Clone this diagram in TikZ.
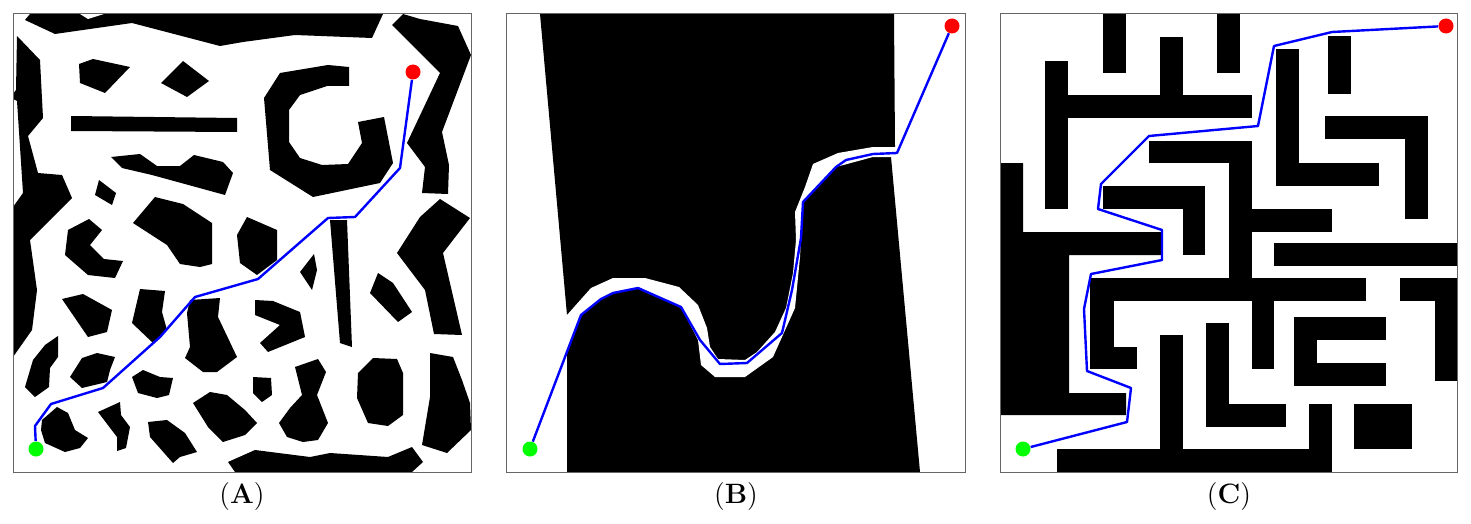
\documentclass[tikz,border=0pt]{standalone}
\usetikzlibrary{positioning}

\begin{document}
\begin{tikzpicture}[x=0.5pt,y=-0.5pt,
    obst/.style={fill=black},
    gap/.style={fill=white},
    frame/.style={draw=black!60, line width=0.5pt},
    route/.style={draw=blue, line width=1.2pt, line join=round},
    startpt/.style={circle, fill=green, inner sep=0pt, minimum size=7.5pt},
    goalpt/.style={circle, fill=red, inner sep=0pt, minimum size=7.5pt},
    caption/.style={font=\fontsize{14}{16}\selectfont, inner sep=2pt}]

  \useasboundingbox (0,0) rectangle (1471,524);

  % (A) random obstacles
  \fill[obst] (30,14) -- (383,14) -- (372,38) -- (295,35) -- (243,42) -- (220,46) -- (132,23) -- (55,34) -- (25,20) -- cycle;
  \fill[gap] (80,14) -- (104,14) -- (88,19) -- cycle;
  \fill[obst] (17,36) -- (40,60) -- (43,118) -- (28,136) -- (38,173) -- (62,175) -- (72,198) -- (30,240) -- (37,290) -- (32,330) -- (13,357) -- (13,207) -- (23,193) -- (17,101) -- (13,99) -- (13,94) -- (16,90) -- cycle;
  \fill[obst] (79,64) -- (93,59) -- (130,67) -- (105,93) -- (80,83) -- cycle;
  \fill[obst] (183,61) -- (209,81) -- (187,97) -- (161,83) -- cycle;
  \fill[obst] (71,116) -- (237,118) -- (237,132) -- (71,131) -- cycle;
  \fill[obst] (111,157) -- (140,154) -- (157,166) -- (180,166) -- (194,155) -- (223,162) -- (233,173) -- (225,195) -- (152,175) -- (122,168) -- cycle;
  \fill[obst] (99,180) -- (116,193) -- (112,205) -- (95,195) -- cycle;
  \fill[obst] (155,197) -- (183,204) -- (212,223) -- (212,264) -- (200,267) -- (180,264) -- (167,245) -- (133,223) -- cycle;
  \fill[obst] (68,230) -- (89,219) -- (102,230) -- (90,245) -- (104,259) -- (123,261) -- (115,278) -- (88,275) -- (65,255) -- cycle;
  \fill[obst] (280,73) -- (328,65) -- (349,67) -- (349,86) -- (327,86) -- (300,95) -- (289,110) -- (289,142) -- (300,158) -- (322,165) -- (348,164) -- (362,143) -- (358,122) -- (384,117) -- (393,163) -- (380,183) -- (313,197) -- (270,170) -- (264,98) -- cycle;
  \fill[obst] (392,25) -- (403,14) -- (420,19) -- (458,26) -- (471,55) -- (442,132) -- (449,165) -- (448,194) -- (422,193) -- (425,167) -- (407,143) -- (440,73) -- cycle;
  \fill[obst] (247,217) -- (277,230) -- (277,260) -- (257,275) -- (240,263) -- (237,235) -- cycle;
  \fill[obst] (330,220) -- (347,220) -- (352,347) -- (340,343) -- cycle;
  \fill[obst] (300,272) -- (314,254) -- (317,270) -- (312,290) -- cycle;
  \fill[obst] (397,253) -- (420,217) -- (440,199) -- (470,218) -- (453,240) -- (443,253) -- (462,335) -- (434,334) -- (425,290) -- cycle;
  \fill[obst] (370,293) -- (378,273) -- (393,283) -- (412,312) -- (398,322) -- cycle;
  \fill[obst] (255,300) -- (273,301) -- (300,312) -- (305,337) -- (268,352) -- (260,343) -- (280,325) -- (255,315) -- cycle;
  \fill[obst] (358,373) -- (373,358) -- (397,359) -- (403,373) -- (403,415) -- (388,426) -- (368,423) -- (357,398) -- cycle;
  \fill[obst] (295,367) -- (318,359) -- (326,372) -- (317,395) -- (328,423) -- (318,440) -- (303,442) -- (287,437) -- (279,423) -- (290,408) -- (302,395) -- cycle;
  \fill[obst] (253,377) -- (271,378) -- (272,395) -- (262,402) -- (253,393) -- cycle;
  \fill[obst] (430,353) -- (453,357) -- (462,380) -- (470,403) -- (471,430) -- (447,453) -- (422,445) -- (430,397) -- cycle;
  \fill[obst] (228,462) -- (255,450) -- (310,457) -- (330,453) -- (388,457) -- (412,447) -- (423,462) -- (412,472) -- (235,472) -- cycle;
  \fill[obst] (193,403) -- (210,392) -- (227,395) -- (245,410) -- (257,423) -- (245,435) -- (223,442) -- (208,427) -- cycle;
  \fill[obst] (62,299) -- (83,294) -- (112,310) -- (107,332) -- (88,337) -- cycle;
  \fill[obst] (140,289) -- (165,291) -- (162,312) -- (167,330) -- (153,343) -- (132,323) -- cycle;
  \fill[obst] (190,300) -- (220,298) -- (218,317) -- (237,357) -- (217,372) -- (203,372) -- (185,358) -- (190,347) -- (187,313) -- cycle;
  \fill[obst] (45,345) -- (58,336) -- (58,357) -- (50,368) -- (49,387) -- (35,397) -- (25,387) -- (33,360) -- cycle;
  \fill[obst] (70,377) -- (82,358) -- (97,353) -- (115,357) -- (110,370) -- (107,382) -- (82,388) -- cycle;
  \fill[obst] (132,377) -- (143,370) -- (160,377) -- (173,378) -- (169,395) -- (157,398) -- (138,393) -- cycle;
  \fill[obst] (42,420) -- (57,407) -- (68,413) -- (75,430) -- (88,438) -- (80,448) -- (65,452) -- (45,443) -- (41,430) -- cycle;
  \fill[obst] (98,412) -- (120,402) -- (121,415) -- (130,427) -- (126,448) -- (117,451) -- (117,437) -- cycle;
  \fill[obst] (148,422) -- (167,420) -- (185,433) -- (197,452) -- (180,457) -- (173,463) -- (150,437) -- cycle;
  \draw[frame] (13,14) rectangle (471,472);

  % (B) narrow passage
  \fill[obst] (540,14) -- (894,14) -- (895,147) -- (891,157) -- (920,472) -- (567,472) -- (567,315) -- cycle;
  \fill[gap] (567,315) -- (591,288) -- (613,278) -- (645,278) -- (679,287) -- (698,305) -- (707,328) -- (710,347) -- (718,359) -- (745,360) -- (757,352) -- (775,332) -- (786,308) -- (793,273) -- (796,240) -- (795,212) -- (805,187) -- (813,164) -- (838,153) -- (873,147) -- (896,147)
    -- (896,157) -- (873,157) -- (836,167) -- (803,203) -- (800,257) -- (795,308) -- (773,357) -- (745,377) -- (715,377) -- (701,365) -- (698,340) -- (681,307) -- (638,288) -- (613,293) -- (601,299) -- (580,316) -- (567,353) -- cycle;
  \draw[frame] (506,14) rectangle (965,472);

  % (C) maze
  \fill[obst] (1103,14) rectangle (1126,73);
  \fill[obst] (1160,37) rectangle (1183,95);
  \fill[obst] (1217,14) rectangle (1240,73);
  \fill[obst] (1328,36) rectangle (1351,94);
  \fill[obst] (1045,61) rectangle (1068,209);
  \fill[obst] (1045,95) rectangle (1252,118);
  \fill[obst] (1149,141) rectangle (1252,163);
  \fill[obst] (1229,141) rectangle (1252,278);
  \fill[obst] (1276,49) rectangle (1299,186);
  \fill[obst] (1276,163) rectangle (1379,186);
  \fill[obst] (1325,116) rectangle (1428,139);
  \fill[obst] (1405,116) rectangle (1428,219);
  \fill[obst] (1103,186) rectangle (1205,209);
  \fill[obst] (1183,186) rectangle (1205,255);
  \fill[obst] (1252,209) rectangle (1332,232);
  \fill[obst] (1274,243) rectangle (1457,266);
  \fill[obst] (1000,163) -- (1023,163) -- (1023,232) -- (1161,232) -- (1161,255) -- (1069,255) -- (1069,393) -- (1126,393) -- (1126,415) -- (1000,415) -- cycle;
  \fill[obst] (1090,278) rectangle (1366,301);
  \fill[obst] (1090,278) rectangle (1114,369);
  \fill[obst] (1090,347) rectangle (1137,369);
  \fill[obst] (1252,278) rectangle (1274,369);
  \fill[obst] (1400,278) rectangle (1457,301);
  \fill[obst] (1435,278) rectangle (1457,381);
  \fill[obst] (1294,317) rectangle (1386,340);
  \fill[obst] (1294,317) rectangle (1317,386);
  \fill[obst] (1294,363) rectangle (1386,386);
  \fill[obst] (1160,335) rectangle (1183,449);
  \fill[obst] (1206,323) rectangle (1229,427);
  \fill[obst] (1206,404) rectangle (1286,427);
  \fill[obst] (1309,404) rectangle (1332,449);
  \fill[obst] (1354,404) rectangle (1412,449);
  \fill[obst] (1057,449) rectangle (1332,472);
  \draw[frame] (1000,14) rectangle (1457,472);

  % start and goal
  \node[startpt] (sA) at (36,449) {};
  \node[goalpt] (gA) at (413,72) {};
  \node[startpt] (sB) at (530,449) {};
  \node[goalpt] (gB) at (952,26) {};
  \node[startpt] (sC) at (1023,449) {};
  \node[goalpt] (gC) at (1446,26) {};

  \draw[route] (sA) -- (35,426) -- (51,404) -- (103,388) -- (160,337) -- (195,297) -- (258,279) -- (328,218) -- (355,217) -- (400,168) -- (gA);
  \draw[route] (sB) -- (581,315) -- (601,299) -- (613,293) -- (638,288) -- (681,307) -- (700,340) -- (720,364) -- (747,363) -- (782,333) -- (792,290) -- (801,238) -- (803,202) -- (836,167) -- (846,160) -- (873,154) -- (897,153) -- (gB);
  \draw[route] (sC) -- (1127,422) -- (1131,388) -- (1087,371) -- (1084,309) -- (1091,274) -- (1162,260) -- (1162,230) -- (1098,209) -- (1101,184) -- (1149,136) -- (1258,126) -- (1274,46) -- (1332,32) -- (gC);

  \coordinate (baseA) at (242,472);
  \coordinate (baseB) at (736,472);
  \coordinate (baseC) at (1229,472);
  \node[caption, below=3pt of baseA] (capA) {(\textbf{A})};
  \node[caption, below=3pt of baseB] (capB) {(\textbf{B})};
  \node[caption, below=3pt of baseC] (capC) {(\textbf{C})};
\end{tikzpicture}
\end{document}
